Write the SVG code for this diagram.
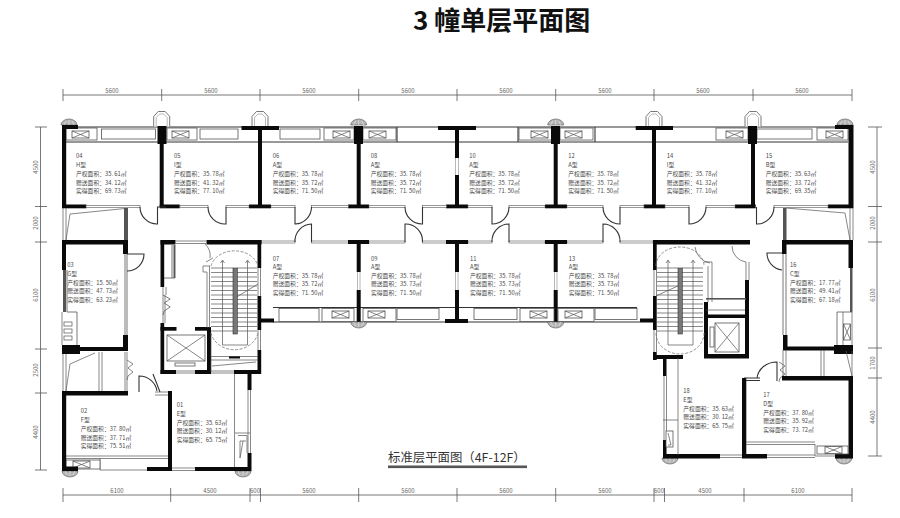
<svg xmlns="http://www.w3.org/2000/svg" width="900" height="518" viewBox="0 0 900 518">
<style>
text{font-family:"Noto Sans CJK SC","Liberation Sans",sans-serif}
.dim{font-size:6px;fill:#666;text-anchor:middle;font-family:"Liberation Sans",sans-serif}
.rm{font-size:5.8px;fill:#4a4a4a}
.dl{stroke:#555;stroke-width:.8;fill:none}
.tk{stroke:#333;stroke-width:1.1;fill:none}
.n{stroke:#555;stroke-width:.7;fill:none}
.lt{stroke:#888;stroke-width:.6;fill:none}
.box{stroke:#555;stroke-width:.8;fill:#fff}
.dw{stroke:#555;stroke-width:.6;fill:#fff}
.k{fill:#0a0a0a}
.gy{fill:#555}
.dash{stroke:#777;stroke-width:.8;fill:none;stroke-dasharray:3 1.5}
</style>
<defs>
<g id="ac"><rect class="box" x="0" y="0" width="17" height="7"/><path class="n" d="M0 0L17 7M17 0L0 7"/></g>
<g id="bay"><path class="box" d="M-8 15V5L-3.5 0H3.5L8 5V15"/><path class="lt" d="M-5.5 15V6L-2 2.5H2L5.5 6V15"/></g>
<g id="flue"><path d="M-8 0A8 6 0 0 1 8 0Z" fill="#b5b5b5" stroke="#555" stroke-width=".6"/><path d="M-5 0L-3 -4M0 0V-5M5 0L3 -4" stroke="#eee" stroke-width=".6" fill="none"/></g>
<g id="zig"><path class="n" d="M0 0L6 4L1 8L6 12L1 16L0 20"/></g>
</defs>

<text x="413" y="30" font-size="26" font-weight="700" fill="#111">3 幢单层平面图</text>

<g id="dimensions">
<path class="dl" d="M63 95H852M63 89V101M161.7 89V101M260 89V101M358.7 89V101M457 89V101M555.7 89V101M654 89V101M753 89V101M852 89V101"/>
<path class="dl" d="M63 495H852M63 488V502M170.7 488V502M250 488V502M260.5 488V502M358.7 488V502M457 488V502M555.7 488V502M654 488V502M664.5 488V502M744 488V502M852 488V502"/>
<path class="dl" d="M40.5 127V470M35 127H47M35 206.5H47M35 242H47M35 349H47M35 393H47M35 470H47"/>
<path class="dl" d="M877 127V456M868 127H882M868 206.5H882M868 242H882M868 348H882M868 378H882M868 456H882"/>
<g class="dim">
<text x="112" y="93">5600</text><text x="211" y="93">5600</text><text x="309" y="93">5600</text><text x="408" y="93">5600</text><text x="506" y="93">5600</text><text x="605" y="93">5600</text><text x="703" y="93">5600</text><text x="802" y="93">5600</text>
<text x="117" y="493">6100</text><text x="210" y="493">4500</text><text x="255" y="493">600</text><text x="309" y="493">5600</text><text x="408" y="493">5600</text><text x="506" y="493">5600</text><text x="605" y="493">5600</text><text x="659" y="493">600</text><text x="705" y="493">4500</text><text x="798" y="493">6100</text>
<text transform="translate(38 167) rotate(-90)">4500</text><text transform="translate(38 223) rotate(-90)">2000</text><text transform="translate(38 295) rotate(-90)">6100</text><text transform="translate(38 370) rotate(-90)">2500</text><text transform="translate(38 432) rotate(-90)">4400</text>
<text transform="translate(875 167) rotate(-90)">4500</text><text transform="translate(875 223) rotate(-90)">2000</text><text transform="translate(875 295) rotate(-90)">6100</text><text transform="translate(875 363) rotate(-90)">1700</text><text transform="translate(875 417) rotate(-90)">4400</text>
</g>
</g>

<g id="north-wing">
<path class="tk" d="M63 127H852"/>
<path class="tk" d="M63 142H848"/>
<rect class="box" x="66" y="128" width="31" height="12"/><rect class="box" x="101.5" y="129" width="54" height="10"/>
<rect class="box" x="167" y="128" width="30" height="12"/><rect class="box" x="200" y="129" width="38" height="10"/>
<rect class="box" x="280" y="129" width="40" height="10"/><rect class="box" x="324" y="128" width="30" height="12"/>
<rect class="box" x="363" y="128" width="33" height="12"/><path class="tk" d="M397 127V142M518 127V142M595 127V142"/>
<rect class="box" x="519" y="128" width="35" height="12"/><rect class="box" x="560" y="128" width="33" height="12"/>
<rect class="box" x="716" y="128" width="32" height="12"/><rect class="box" x="757" y="129" width="55" height="10"/><rect class="box" x="817" y="128" width="31" height="12"/>
<use href="#ac" x="72" y="131"/><use href="#ac" x="172" y="131"/><use href="#ac" x="333" y="131"/><use href="#ac" x="369" y="131"/><use href="#ac" x="531" y="131"/><use href="#ac" x="565" y="131"/><use href="#ac" x="726" y="131"/><use href="#ac" x="826" y="131"/>
<use href="#bay" x="161.7" y="111.5"/><use href="#bay" x="260" y="111.5"/><use href="#bay" x="654" y="111.5"/><use href="#bay" x="753" y="111.5"/>
<use href="#flue" x="69" y="125"/><use href="#flue" x="358.7" y="125"/><use href="#flue" x="555.7" y="125"/><use href="#flue" x="845" y="125"/>
<g class="k">
<rect x="62" y="125" width="4.2" height="83"/><rect x="62" y="125" width="16" height="4"/><rect x="62" y="204.5" width="24.5" height="3.8"/>
<rect x="159.7" y="127" width="4" height="80"/><rect x="157.5" y="126" width="9" height="18"/><rect x="159.7" y="204.5" width="20" height="3.8"/>
<rect x="258" y="127" width="4" height="80"/><rect x="241.5" y="126" width="37.5" height="4"/><rect x="249" y="204.5" width="22" height="3.8"/>
<rect x="356.7" y="127" width="4" height="80"/><rect x="354" y="126" width="9" height="18"/><rect x="348" y="204.5" width="21" height="3.8"/>
<rect x="455" y="127" width="4" height="31"/><rect x="455" y="175" width="4" height="32"/><rect x="438" y="126" width="38" height="4"/><rect x="446" y="204.5" width="22" height="3.8"/>
<rect x="553.7" y="127" width="4" height="80"/><rect x="551" y="126" width="9" height="18"/><rect x="545" y="204.5" width="22" height="3.8"/>
<rect x="652" y="127" width="4" height="80"/><rect x="635.7" y="126" width="37.3" height="4"/><rect x="643.7" y="204.5" width="21.5" height="3.8"/>
<rect x="751" y="127" width="4" height="80"/><rect x="748" y="126" width="9" height="18"/><rect x="735" y="204.5" width="20.7" height="3.8"/>
<rect x="848.5" y="125" width="5" height="83"/><rect x="835" y="125" width="18" height="4"/><rect x="828" y="204.5" width="25" height="3.8"/>
</g>
<path class="lt" d="M455.5 158V175M458.5 158V175"/>
</g>

<g id="corridor">
<g class="dw">
<rect x="86" y="205.3" width="54" height="2"/><rect x="180" y="205.3" width="28" height="2"/><rect x="226" y="205.3" width="23" height="2"/><rect x="271" y="205.3" width="24" height="2"/><rect x="311.5" y="205.3" width="37" height="2"/><rect x="369" y="205.3" width="36" height="2"/><rect x="422.5" y="205.3" width="24" height="2"/><rect x="468" y="205.3" width="24" height="2"/><rect x="509" y="205.3" width="36" height="2"/><rect x="567" y="205.3" width="36" height="2"/><rect x="620" y="205.3" width="24" height="2"/><rect x="665" y="205.3" width="24" height="2"/><rect x="706" y="205.3" width="29" height="2"/><rect x="774" y="205.3" width="54" height="2"/>
<rect x="261" y="241" width="34" height="2"/><rect x="311.5" y="241" width="37" height="2"/><rect x="369" y="241" width="36" height="2"/><rect x="422.5" y="241" width="24" height="2"/><rect x="468" y="241" width="24" height="2"/><rect x="509" y="241" width="36" height="2"/><rect x="567" y="241" width="36" height="2"/><rect x="620" y="241" width="33" height="2"/>
</g>
<path class="tk" d="M140 207A17 17 0 0 0 157.5 224V207H166"/>
<path class="tk" d="M208 207A17 17 0 0 0 226 224V207"/>
<path class="tk" d="M311.5 207A17 17 0 0 1 295 224V207"/>
<path class="tk" d="M405 207A17 17 0 0 0 422.5 224V207"/>
<path class="tk" d="M509 207A17 17 0 0 1 492 224V207"/>
<path class="tk" d="M603 207A17 17 0 0 0 620 224V207"/>
<path class="tk" d="M706 207A17 17 0 0 1 689 224V207"/>
<path class="tk" d="M774 207A17 17 0 0 1 756.5 224V207"/>
<path class="tk" d="M295 242A17 17 0 0 1 311.5 224V242"/>
<path class="tk" d="M422.5 242A17 17 0 0 0 405 224V242"/>
<path class="tk" d="M492 242A17 17 0 0 1 509 224V242"/>
<path class="tk" d="M620 242A17 17 0 0 0 603 224V242"/>
</g>

<g id="south-of-corridor">
<path class="tk" d="M273 322H640M273 307.5H637"/>
<g class="k">
<rect x="348" y="240" width="21" height="4"/><rect x="356.7" y="242" width="4" height="30"/><rect x="356.7" y="290" width="4" height="33"/>
<rect x="446" y="240" width="22" height="4"/><rect x="455" y="242" width="4" height="30"/><rect x="455" y="290" width="4" height="33"/><rect x="445" y="319" width="23" height="4"/>
<rect x="545" y="240" width="22" height="4"/><rect x="553.7" y="242" width="4" height="30"/><rect x="553.7" y="290" width="4" height="33"/>
<rect x="261" y="318.5" width="13" height="4"/><rect x="640" y="318.5" width="14" height="4"/>
</g>
<path class="lt" d="M357.5 272V290M360 272V290M455.5 272V290M458 272V290M554.5 272V290M557 272V290"/>
<rect class="box" x="279" y="308.5" width="40" height="13"/><rect class="box" x="322" y="308.5" width="32" height="13"/><rect class="box" x="363" y="308.5" width="33" height="13"/><rect class="box" x="397" y="308.5" width="42" height="11"/><rect class="box" x="474" y="308.5" width="43" height="11"/><rect class="box" x="520" y="308.5" width="34" height="13"/><rect class="box" x="558" y="308.5" width="36" height="13"/><rect class="box" x="595" y="308.5" width="42" height="11"/>
<use href="#ac" x="332" y="311"/><use href="#ac" x="368" y="311"/><use href="#ac" x="530" y="311"/><use href="#ac" x="565" y="311"/>
<use href="#flue" transform="translate(358.7 322) rotate(180)"/><use href="#flue" transform="translate(555.7 322) rotate(180)"/>
</g>

<g id="west-wing">
<path class="n" d="M63 208V240M66 208V240"/><path class="n" d="M66 240L70 214L125 208.5"/><rect class="gy" x="124" y="208" width="4" height="32"/>
<g class="k">
<rect x="62" y="240" width="66" height="4.5"/><rect x="62" y="240" width="4" height="30"/><rect x="123" y="240" width="5" height="14"/><rect x="123" y="335" width="5" height="16"/><rect x="80" y="347" width="48" height="4"/><rect x="62" y="345" width="18" height="9"/>
</g>
<rect class="gy" x="63" y="270" width="3" height="42"/>
<path class="dl" d="M125 254V335M127 254V335M67 270V312H77V345"/>
<path class="n" d="M62 312V345"/>
<path class="tk" d="M127 254H144A17 17 0 0 1 127 271"/>
<g class="n"><rect x="64" y="322" width="8" height="4"/><rect x="64" y="329" width="8" height="4"/><rect x="64" y="336" width="8" height="4"/></g>
<path class="n" d="M63 354V392M66 354V392M66 391L70 364L95 353M99 352V391M102 352V391M125 352V391M127 352V391"/>
<use href="#zig" x="127" y="360"/>
<path class="tk" d="M139 392V376A18 18 0 0 1 157 391M153 374L160 392"/>
<path class="n" d="M155 392H168M155 395H168"/>
<path class="n" d="M66 456H168M66 458.5H168M172 468H195M172 470.5H195M100 458V470H168"/>
<rect class="box" x="66" y="460" width="34" height="9"/><use href="#ac" x="73" y="461"/>
<use href="#flue" transform="translate(70 471) rotate(180)"/><use href="#flue" transform="translate(243 471) rotate(180)"/>
<g class="k">
<rect x="62" y="391" width="66" height="4.5"/><rect x="62" y="391" width="4.2" height="80"/><rect x="168" y="391" width="4" height="80"/><rect x="62" y="466.5" width="16" height="4.5"/><rect x="147" y="467" width="25" height="4"/>
<rect x="195" y="467" width="56" height="4"/><rect x="247.5" y="372" width="4" height="18"/><rect x="247.5" y="453" width="4" height="18"/>
</g>
<path class="n" d="M234.5 372V467M248 390V453M250.5 390V453M235 433H250M238 435.5H247V453"/>
<path class="n" d="M243 441L240 458M246 441H240V458"/>
</g>

<g id="west-core">
<g class="k">
<rect x="160.5" y="240" width="15" height="4.5"/><rect x="206.5" y="240" width="55" height="4.5"/>
<rect x="160.5" y="240" width="3.7" height="47"/><rect x="160.5" y="323" width="3.7" height="51"/>
<rect x="160.5" y="327" width="16" height="3.7"/><rect x="195" y="327" width="16" height="3.7"/><rect x="207" y="327" width="4" height="47"/>
<rect x="160.5" y="370" width="15.5" height="4"/><rect x="195" y="370" width="16" height="4"/><rect x="234" y="370" width="27" height="4"/>
<rect x="257.5" y="240" width="3.7" height="28"/><rect x="257.5" y="296" width="3.7" height="34"/><rect x="257.5" y="350" width="3.7" height="24"/>
<rect x="229" y="356" width="11" height="2.5"/>
</g>
<path class="n" d="M176 241H206M176 243.5H206M176 371H195M176 373H195M211 371H234M211 373H234M163 287V323M166 295V287M165 323V295"/>
<path class="n" d="M258 268V296M260.5 268V296M258 330V350M260.5 330V350"/>
<path class="dl" d="M164 278H175V245M172 245V278"/><rect class="gy" x="173.5" y="245" width="1.6" height="33"/>
<use href="#zig" transform="translate(163 295) scale(1.2 1)"/>
<path class="n" d="M205 266H203V272H207V328M209.5 266V328M205 266H210"/>
<path class="n" d="M210 258A16 16 0 0 0 205 244M206 262L213 258"/>
<rect class="box" x="167" y="335" width="38" height="26"/><path class="n" d="M167 335L205 361M205 335L167 361"/>
<rect class="box" x="175" y="363" width="20" height="3"/>
<g class="n"><path d="M211 268H233M211 272.5H233M211 277H233M211 281.5H233M211 286H233M211 290.5H233M211 295H233M211 299.5H233M211 304H233M211 308.5H233M211 313H233M211 317.5H233M211 322H233M211 326.5H233M211 331H233"/>
<path d="M237 268H257M237 272.5H257M237 277H257M237 281.5H257M237 286H257M237 290.5H257M237 295H257M237 299.5H257M237 304H257M237 308.5H257M237 313H257M237 317.5H257M237 322H257M237 326.5H257M237 331H257"/>
<path d="M222.5 261V345H247.5V261M220.5 263L222.5 260L224.5 263M245.5 263L247.5 260L249.5 263"/>
<path d="M235 298L258 284"/><path d="M211 356.5H258M211 360H258M212 366L256 362M211 333V372"/></g>
<rect x="233" y="268" width="4.3" height="66" fill="#777" stroke="#333" stroke-width=".6"/>
<path class="dash" d="M211 266A24 19 0 0 1 258 266M211 333A24 21 0 0 0 258 333"/>
</g>

<g id="east-core">
<g class="k">
<rect x="653" y="240" width="97" height="4.5"/><rect x="653" y="240" width="3.7" height="30"/><rect x="653" y="296" width="3.7" height="34"/><rect x="653" y="352" width="3.7" height="8"/>
<rect x="653" y="355" width="30" height="4"/><rect x="704" y="354" width="45" height="4.5"/><rect x="704" y="302" width="4" height="56"/><rect x="745" y="280" width="4" height="78"/><rect x="704" y="314.5" width="45" height="3.5"/>
</g>
<path class="n" d="M654 270V296M656.5 270V296M654 330V352M656.5 330V352"/>
<rect class="gy" x="706" y="298" width="40" height="1.6"/><path class="n" d="M706 310H745M746 262V280M749 262V280"/>
<rect class="box" x="715" y="323" width="24" height="29"/><path class="n" d="M715 323L739 352M739 323L715 352"/>
<rect class="box" x="710" y="327" width="4" height="20"/>
<path class="n" d="M695 247A18 18 0 0 0 710 263M704 262H712V302M708 266V302M732 246A16 16 0 0 0 746 262"/>
<g class="n"><path d="M657 268H678M657 272.5H678M657 277H678M657 281.5H678M657 286H678M657 290.5H678M657 295H678M657 299.5H678M657 304H678M657 308.5H678M657 313H678M657 317.5H678M657 322H678M657 326.5H678M657 331H678"/>
<path d="M682 268H703M682 272.5H703M682 277H703M682 281.5H703M682 286H703M682 290.5H703M682 295H703M682 299.5H703M682 304H703M682 308.5H703M682 313H703M682 317.5H703M682 322H703M682 326.5H703M682 331H703"/>
<path d="M668 261V345H693V261M666 263L668 260L670 263M691 263L693 260L695 263"/>
<path d="M656 296L680 285"/></g>
<rect x="678" y="268" width="4.3" height="66" fill="#777" stroke="#333" stroke-width=".6"/>
<path class="dash" d="M656 266A24 19 0 0 1 704 266M656 333A24 21 0 0 0 704 333"/>
</g>

<g id="east-wing">
<path class="n" d="M850 208V240M853 208V240M786 208L845 213L850 240"/><rect class="gy" x="783" y="208" width="3.5" height="32"/>
<g class="k">
<rect x="782" y="240" width="71" height="4.5"/><rect x="782" y="240" width="4.5" height="14"/><rect x="783" y="335" width="4.5" height="15"/><rect x="783" y="346.5" width="51" height="4"/><rect x="834" y="345" width="19" height="9"/><rect x="848.5" y="240" width="4.5" height="28"/>
</g>
<rect class="gy" x="850" y="268" width="2.5" height="44"/>
<path class="dl" d="M783 254V335M786 254V335M837 345V312H852"/><path class="n" d="M852 312V345M843 312V345"/>
<rect class="box" x="843.5" y="324" width="7" height="16"/><path class="n" d="M843.5 324L850.5 340M850.5 324L843.5 340"/>
<path class="tk" d="M782 253H767A17 17 0 0 0 782 270"/>
<path class="n" d="M783 350V376M786 350V376M821 350V376M824 350V376M846 351L852 376M852 351V376"/>
<use href="#zig" transform="translate(779 362)"/>
<path class="tk" d="M777 381V362A20 18 0 0 0 757 378M744 378H760M744 380.5H760"/>
<use href="#flue" transform="translate(670 458) rotate(180)"/><use href="#flue" transform="translate(844 458) rotate(180)"/>
<g class="k">
<rect x="782" y="376" width="71" height="4.5"/><rect x="742" y="378" width="4.3" height="80"/><rect x="848.5" y="376" width="4.5" height="82"/><rect x="742" y="454" width="25" height="4.5"/><rect x="835" y="454" width="18" height="4.5"/>
<rect x="663" y="358" width="3.5" height="18"/><rect x="663" y="440" width="3.5" height="18"/><rect x="663" y="454" width="57" height="4.5"/>
</g>
<path class="n" d="M746 442H815M746 444.5H815M815 444V456H835M767 455H815M767 457.5H815M720 455H742M720 457.5H742"/>
<rect class="box" x="817" y="446" width="31" height="8"/><use href="#ac" x="825" y="446.5"/>
<path class="n" d="M664 376V440M666.5 376V440M678 358V455M663 420H678"/>
<rect class="box" x="666" y="431" width="7" height="16"/><path class="n" d="M668 433L671 445L668 445"/>
</g>

<g id="labels" class="rm">
<text x="76" y="158">04</text><text x="76" y="167">H型</text><text x="76" y="175.5">产权面积：35. 61㎡</text><text x="76" y="184.5">赠送面积：34. 12㎡</text><text x="76" y="193">实得面积：69. 73㎡</text>
<text x="174" y="158">05</text><text x="174" y="167">I型</text><text x="174" y="175.5">产权面积：35. 78㎡</text><text x="174" y="184.5">赠送面积：41. 32㎡</text><text x="174" y="193">实得面积：77. 10㎡</text>
<text x="272.7" y="158">06</text><text x="272.7" y="167">A型</text><text x="272.7" y="175.5">产权面积：35. 78㎡</text><text x="272.7" y="184.5">赠送面积：35. 72㎡</text><text x="272.7" y="193">实得面积：71. 50㎡</text>
<text x="370.7" y="158">08</text><text x="370.7" y="167">A型</text><text x="370.7" y="175.5">产权面积：35. 78㎡</text><text x="370.7" y="184.5">赠送面积：35. 72㎡</text><text x="370.7" y="193">实得面积：71. 50㎡</text>
<text x="469.3" y="158">10</text><text x="469.3" y="167">A型</text><text x="469.3" y="175.5">产权面积：35. 78㎡</text><text x="469.3" y="184.5">赠送面积：35. 72㎡</text><text x="469.3" y="193">实得面积：71. 50㎡</text>
<text x="568.3" y="158">12</text><text x="568.3" y="167">A型</text><text x="568.3" y="175.5">产权面积：35. 78㎡</text><text x="568.3" y="184.5">赠送面积：35. 72㎡</text><text x="568.3" y="193">实得面积：71. 50㎡</text>
<text x="666.7" y="158">14</text><text x="666.7" y="167">I型</text><text x="666.7" y="175.5">产权面积：35. 78㎡</text><text x="666.7" y="184.5">赠送面积：41. 32㎡</text><text x="666.7" y="193">实得面积：77. 10㎡</text>
<text x="765.7" y="158">15</text><text x="765.7" y="167">B型</text><text x="765.7" y="175.5">产权面积：35. 63㎡</text><text x="765.7" y="184.5">赠送面积：33. 72㎡</text><text x="765.7" y="193">实得面积：69. 35㎡</text>
<text x="272.7" y="260.5">07</text><text x="272.7" y="269">A型</text><text x="272.7" y="277.5">产权面积：35. 78㎡</text><text x="272.7" y="286">赠送面积：35. 72㎡</text><text x="272.7" y="294.5">实得面积：71. 50㎡</text>
<text x="371" y="260.5">09</text><text x="371" y="269">A型</text><text x="371" y="277.5">产权面积：35. 78㎡</text><text x="371" y="286">赠送面积：35. 73㎡</text><text x="371" y="294.5">实得面积：71. 50㎡</text>
<text x="470" y="260.5">11</text><text x="470" y="269">A型</text><text x="470" y="277.5">产权面积：35. 78㎡</text><text x="470" y="286">赠送面积：35. 73㎡</text><text x="470" y="294.5">实得面积：71. 50㎡</text>
<text x="568.7" y="260.5">13</text><text x="568.7" y="269">A型</text><text x="568.7" y="277.5">产权面积：35. 78㎡</text><text x="568.7" y="286">赠送面积：35. 73㎡</text><text x="568.7" y="294.5">实得面积：71. 50㎡</text>
<text x="67.3" y="267">03</text><text x="67.3" y="276">G型</text><text x="67.3" y="284.5">产权面积：15. 50㎡</text><text x="67.3" y="293">赠送面积：47. 73㎡</text><text x="67.3" y="301.7">实得面积：63. 23㎡</text>
<text x="790" y="267">16</text><text x="790" y="276">C型</text><text x="790" y="284.5">产权面积：17. 77㎡</text><text x="790" y="293">赠送面积：49. 41㎡</text><text x="790" y="302">实得面积：67. 18㎡</text>
<text x="176.7" y="407">01</text><text x="176.7" y="416">E型</text><text x="176.7" y="424.5">产权面积：35. 63㎡</text><text x="176.7" y="433">赠送面积：30. 12㎡</text><text x="176.7" y="441.5">实得面积：65. 75㎡</text>
<text x="80.7" y="413">02</text><text x="80.7" y="422">F型</text><text x="80.7" y="431">产权面积：37. 80㎡</text><text x="80.7" y="439.5">赠送面积：37. 71㎡</text><text x="80.7" y="448">实得面积：75. 51㎡</text>
<text x="683.3" y="393">18</text><text x="683.3" y="402">E型</text><text x="683.3" y="410.5">产权面积：35. 63㎡</text><text x="683.3" y="419">赠送面积：30. 12㎡</text><text x="683.3" y="427.5">实得面积：65. 75㎡</text>
<text x="763.3" y="397">17</text><text x="763.3" y="406">D型</text><text x="763.3" y="414.7">产权面积：37. 80㎡</text><text x="763.3" y="423">赠送面积：35. 92㎡</text><text x="763.3" y="432">实得面积：73. 72㎡</text>
</g>

<text x="388" y="462" font-size="12.4" fill="#333">标准层平面图（4F-12F）</text>
<rect x="388" y="465.5" width="139" height="2.6" fill="#555"/>
</svg>
